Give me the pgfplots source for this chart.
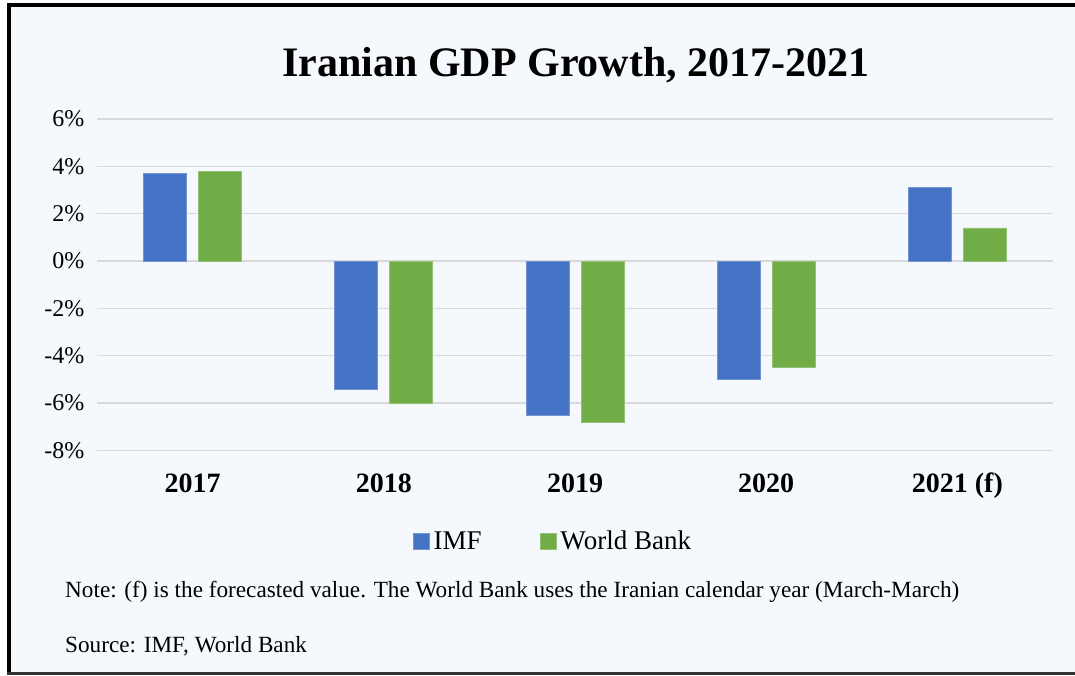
\documentclass[border=0pt]{standalone}
\usepackage{fontspec}
\setmainfont{Liberation Serif}
\usepackage{pgfplots}
\usepackage{pgfplotstable}
\pgfplotsset{compat=1.18}
\usepackage{xcolor}

\definecolor{bg}{HTML}{F5F9FD}
\definecolor{imf}{HTML}{4472C4}
\definecolor{wb}{HTML}{70AD47}
\definecolor{gridc}{HTML}{D9D9D9}

% bar values (percent)
\pgfplotstableread{
x  imf   wb
0  3.7   3.8
1  -5.4  -6.0
2  -6.5  -6.8
3  -5.0  -4.5
4  3.1   1.4
}\gdpdata

\begin{document}
\begin{tikzpicture}
% page = 1075 x 675 px, 1pt per px
\fill[white] (0,0) rectangle (1075pt,675pt);
\useasboundingbox (0,0) rectangle (1075pt,675pt);
\fill[bg] (9pt,3pt) rectangle (1075pt,670pt);
\fill[black] (7pt,668pt) rectangle (1075pt,672pt);
\fill[black] (7pt,0pt) rectangle (11pt,672pt);
\fill[black!80] (7pt,0pt) rectangle (1075pt,3pt);

\node[anchor=base, font=\fontsize{42}{48}\selectfont\bfseries] at (576pt,598pt) {Iranian GDP Growth, 2017-2021};

\begin{axis}[
  at={(97pt,224.5pt)}, anchor=south west,
  scale only axis, width=956pt, height=331.5pt,
  ybar=12pt, bar width=43pt,
  xmin=-0.5, xmax=4.5, ymin=-8, ymax=6,
  xtick=data,
  xticklabels={2017,2018,2019,2020,2021 (f)},
  ytick={-8,-6,...,6},
  yticklabel={\pgfmathprintnumber{\tick}\%},
  /pgf/number format/assume math mode=true,
  ymajorgrids, grid style={gridc, line width=1.3pt},
  axis line style={draw=none},
  tick style={draw=none},
  yticklabel style={font=\fontsize{24}{28}\selectfont, xshift=-9pt},
  xticklabel style={font=\fontsize{28}{32}\selectfont\bfseries, anchor=base, yshift=-38pt},
  legend columns=2,
  legend style={at={(0.478,-0.273)}, anchor=center, draw=none, fill=none,
    font=\fontsize{27}{31}\selectfont,
    nodes={inner sep=4pt},
    /tikz/every even column/.append style={column sep=54pt}},
  legend image code/.code={\fill[#1] (0pt,-8pt) rectangle (16pt,8pt);},
]
\addplot[fill=imf, draw=imf!75!white, line width=0.8pt] table[x=x, y=imf] {\gdpdata};
\addlegendentry{IMF}
\addplot[fill=wb, draw=wb!75!white, line width=0.8pt] table[x=x, y=wb] {\gdpdata};
\addlegendentry{World Bank}
\end{axis}

\node[anchor=base west, inner sep=0pt, font=\fontsize{23.2}{26}\selectfont] at (65pt,78pt) {Note: (f) is the forecasted value. The World Bank uses the Iranian calendar year (March-March)};
\node[anchor=base west, inner sep=0pt, font=\fontsize{23.2}{26}\selectfont] at (65pt,23pt) {Source: IMF, World Bank};
\end{tikzpicture}
\end{document}
